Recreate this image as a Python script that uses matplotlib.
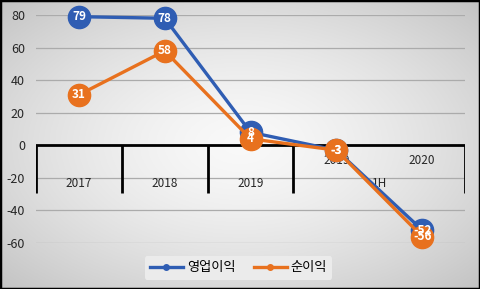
import numpy as np
import matplotlib
matplotlib.use('Agg')
import matplotlib.pyplot as plt

plt.rcParams['font.family'] = ['Noto Sans CJK KR', 'DejaVu Sans']

# 데이터
inner_labels = ['', '', '', '2019', '2020']
outer_labels = ['2017', '2018', '2019', '1H']
outer_spans = [(0, 0), (1, 1), (2, 2), (3, 4)]
op_profit = [79, 78, 8, -3, -52]
net_profit = [31, 58, 4, -3, -56]
y_ticks = [-60, -40, -20, 0, 20, 40, 60, 80]

blue = '#2F5DB3'
orange = '#E8711E'

fig = plt.figure(figsize=(4.8, 2.89), dpi=100)

# 배경 그라데이션 (가운데 밝고 가장자리 어둡게)
bg = fig.add_axes([0, 0, 1, 1])
xx, yy = np.meshgrid(np.linspace(-1, 1, 300), np.linspace(-1, 1, 200))
r = np.sqrt(xx ** 2 + yy ** 2) / np.sqrt(2)
g = 0.975 - 0.21 * r ** 1.5
img = np.dstack([g, g, g])
bg.imshow(img, aspect='auto', extent=[0, 1, 0, 1])
bg.add_patch(plt.Rectangle((0, 0), 1, 1, fill=False, edgecolor='black', lw=2.5,
                           transform=bg.transAxes))
bg.set_xlim(0, 1)
bg.set_ylim(0, 1)
bg.set_axis_off()

ax = fig.add_axes([0.075, 0.159, 0.894, 0.789])
ax.patch.set_alpha(0)
x = np.arange(len(op_profit))

ax.set_xlim(-0.5, 4.5)
ax.set_ylim(-60, 80)
ax.set_yticks(y_ticks)
ax.set_yticklabels([str(v) for v in y_ticks], fontsize=9, color='#262626')
ax.tick_params(axis='y', length=0, pad=8)
ax.set_xticks([])
for s in ax.spines.values():
    s.set_visible(False)
for v in y_ticks:
    if v != 0:
        ax.axhline(v, color='#ABABAB', lw=0.9, zorder=1)

# 카테고리 축
ax.axhline(0, color='black', lw=2, zorder=2)
ax.vlines([-0.5, 0.5, 1.5, 2.5, 4.5], -29, 0, color='black', lw=2, zorder=2)
for i, lab in enumerate(inner_labels):
    if lab:
        ax.text(x[i], -9.5, lab, ha='center', va='center', fontsize=8.5, color='#262626', zorder=3)
for lab, (a, b) in zip(outer_labels, outer_spans):
    ax.text((a + b) / 2, -23.5, lab, ha='center', va='center', fontsize=8.5, color='#262626', zorder=3)

ax.plot(x, op_profit, color=blue, lw=2.4, marker='o', markersize=16, label='영업이익',
        clip_on=False, zorder=4)
ax.plot(x, net_profit, color=orange, lw=2.4, marker='o', markersize=16, label='순이익',
        clip_on=False, zorder=5)

for xi, v in zip(x, op_profit):
    ax.text(xi, v, str(v), ha='center', va='center', color='white', fontsize=8.5,
            fontweight='bold', zorder=6)
for xi, v in zip(x, net_profit):
    ax.text(xi, v, str(v), ha='center', va='center', color='white', fontsize=8.5,
            fontweight='bold', zorder=7)

h1 = plt.Line2D([], [], color=blue, lw=2.4, marker='o', markersize=4)
h2 = plt.Line2D([], [], color=orange, lw=2.4, marker='o', markersize=4)
leg = fig.legend([h1, h2], ['영업이익', '순이익'], loc='center', bbox_to_anchor=(0.497, 0.073),
                 ncol=2, fontsize=9.5, frameon=True, handlelength=2.5, columnspacing=1.4,
                 handletextpad=0.3, borderpad=0.4)
leg.get_frame().set_facecolor('#EBEBEB')
leg.get_frame().set_edgecolor('none')
leg.get_frame().set_alpha(1)

fig.savefig('out.png', dpi=100)
